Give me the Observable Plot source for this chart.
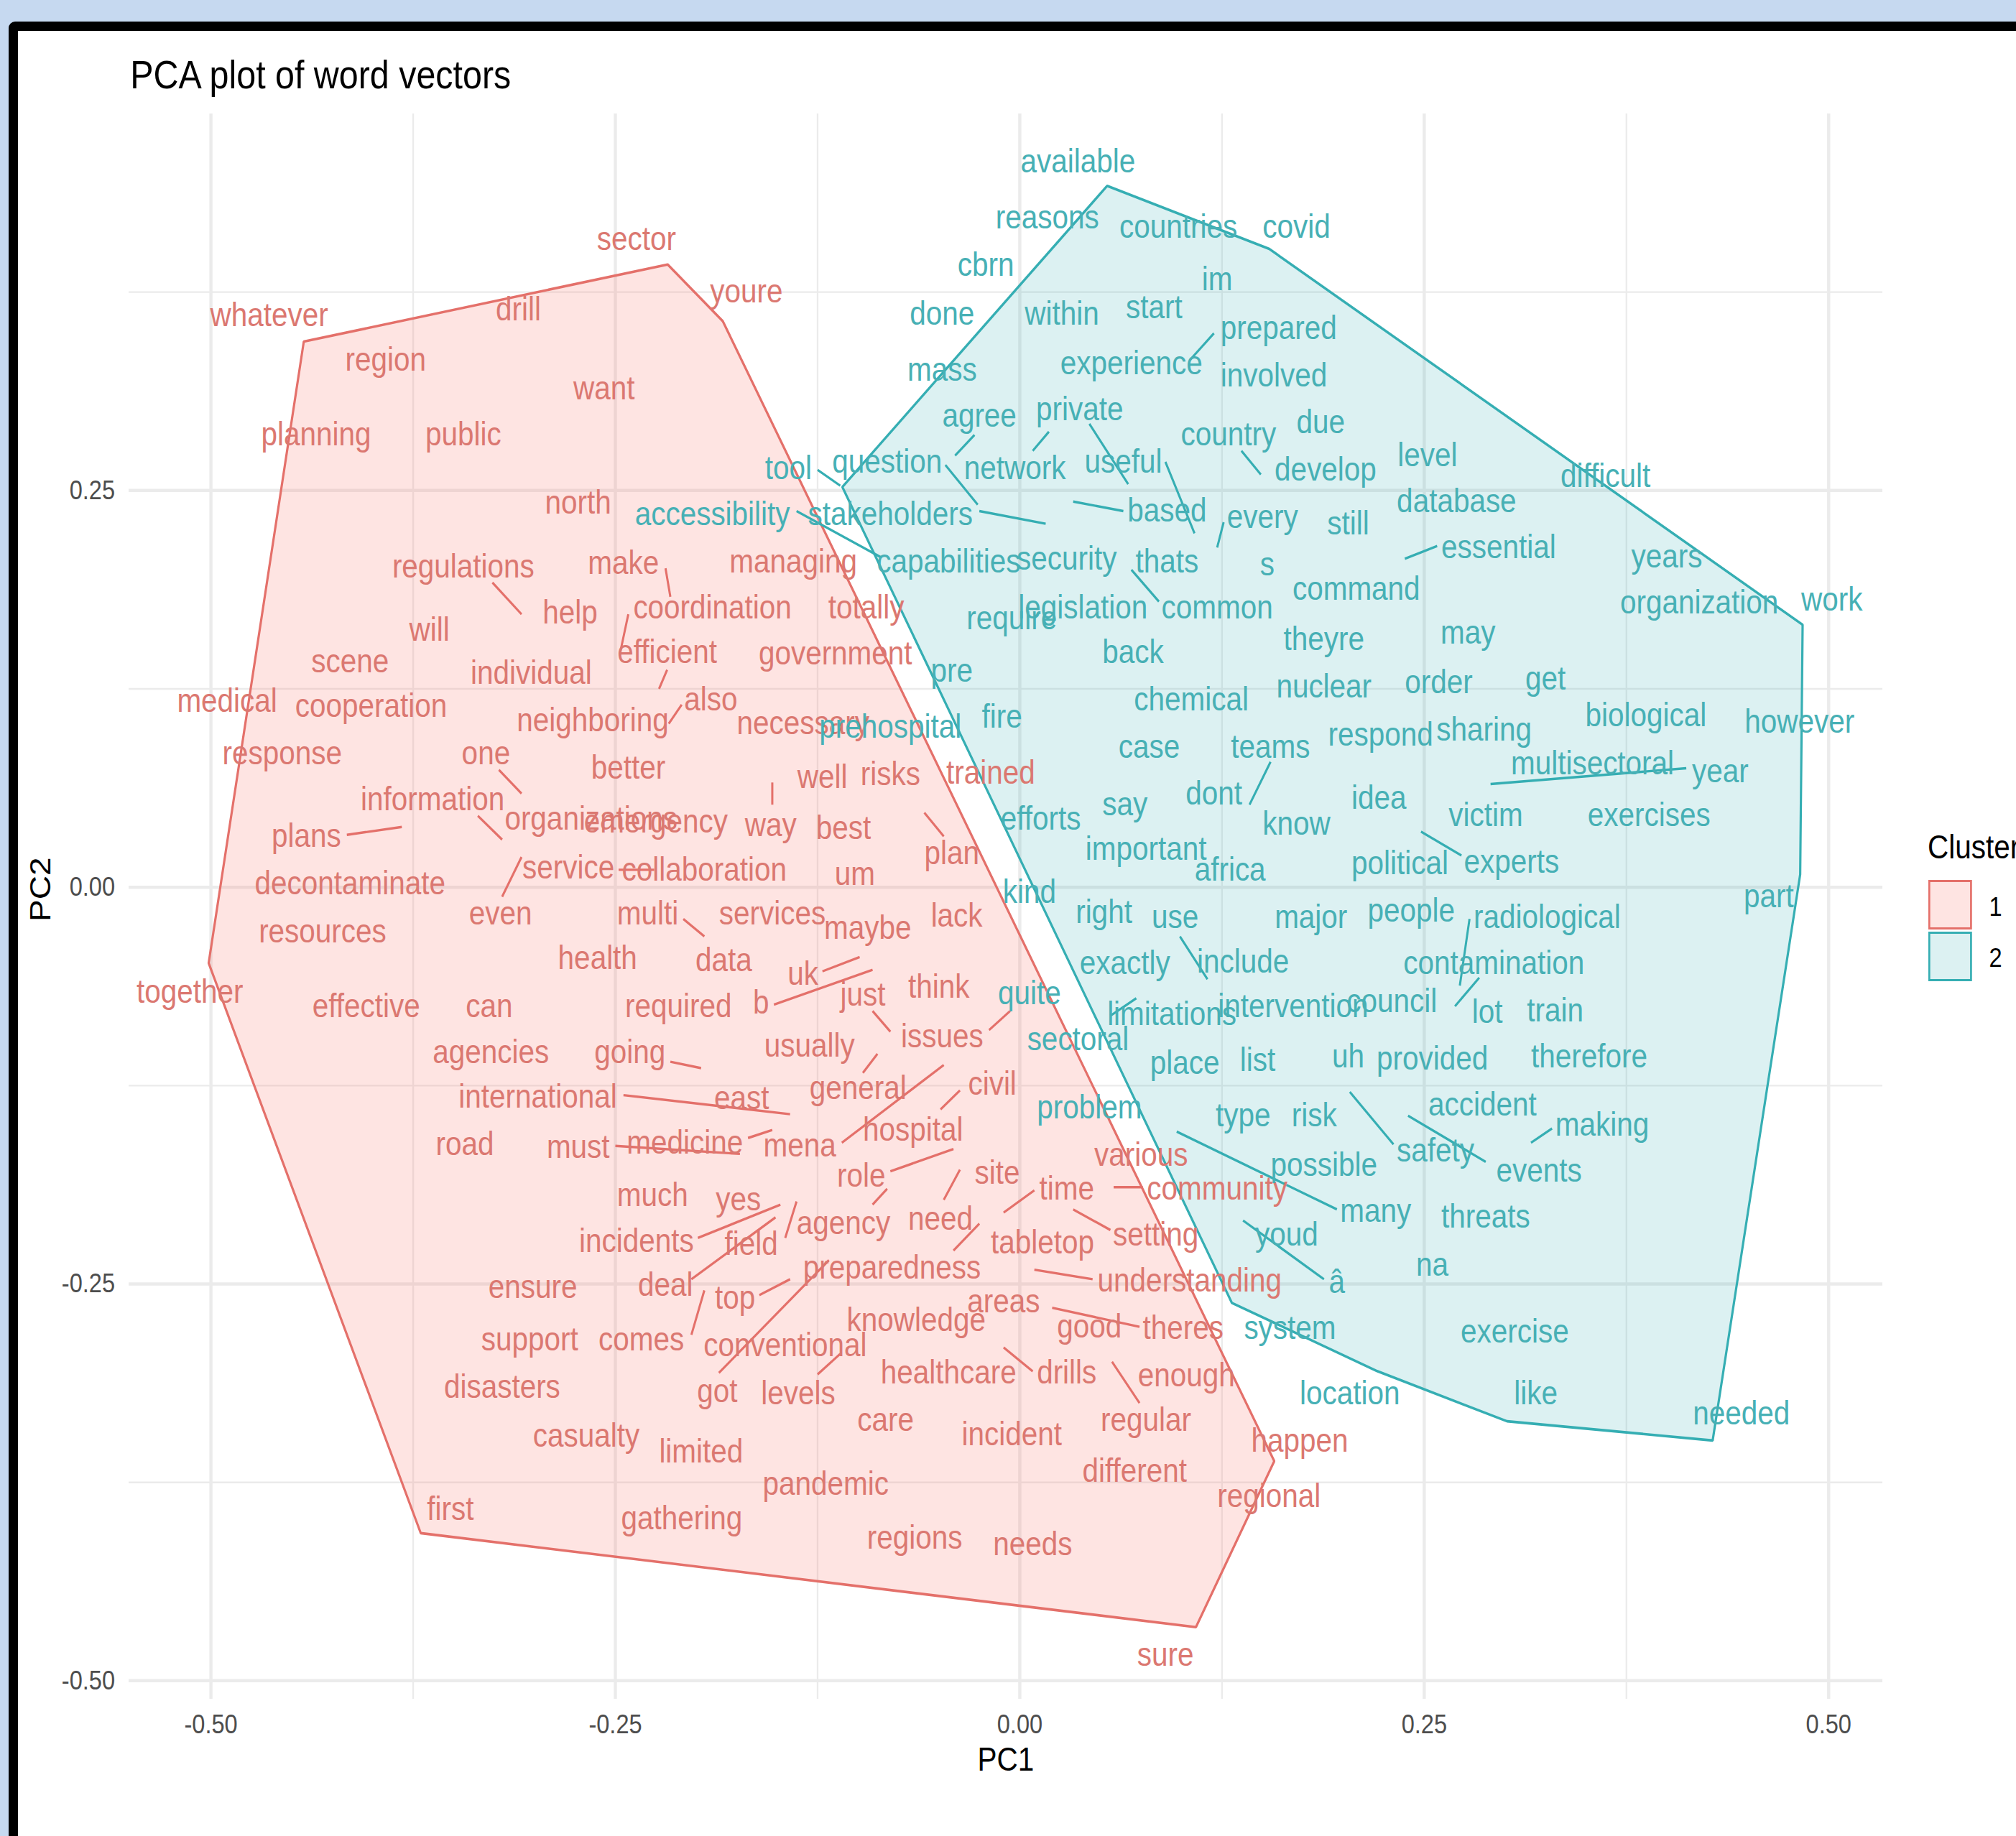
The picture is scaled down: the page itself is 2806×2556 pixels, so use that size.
<!DOCTYPE html>
<html>
<head>
<meta charset="utf-8">
<script src="https://cdn.jsdelivr.net/npm/d3@7"></script>
<script src="https://cdn.jsdelivr.net/npm/@observablehq/plot@0.6"></script>
<style>
  html, body { margin:0; padding:0; width:2806px; height:2556px; overflow:hidden; background:#C6D9F0; }
  #frame { position:absolute; left:12px; top:30px; width:3200px; height:3000px; box-sizing:border-box; border:13px solid #000; border-radius:9px; background:#fff; }
  #squeeze { position:absolute; left:0; top:0; width:3190px; height:2556px; transform:scaleX(0.88); transform-origin:0 0; font-family:"Liberation Sans", Arial, Helvetica, sans-serif; }
  #title { position:absolute; left:206px; top:77px; font-size:55px; line-height:55px; color:#000; white-space:nowrap; }
  #chart { position:absolute; left:0; top:0; }
  .leg { position:absolute; white-space:nowrap; color:#000; }
  .key { position:absolute; box-sizing:border-box; }
</style>
</head>
<body>
<div id="frame"></div>
<div id="squeeze">
  <div id="title">PCA plot of word vectors</div>
  <div id="chart"></div>
  <div id="legend"></div>
</div>
<script>
// ---------- data ----------
const clusters = ["1", "2"];

const c1Words = [
  "sector","whatever","drill","youre","region","want","planning","public","north","regulations",
  "make","managing","help","coordination","totally","will","scene","individual","efficient","government",
  "medical","cooperation","also","neighboring","necessary","response","one","better","well","risks",
  "trained","information","organizations","emergency","way","best","plans","plan","service","collaboration",
  "um","decontaminate","even","multi","services","maybe","lack","resources","health","data",
  "uk","just","think","together","effective","can","required","b","issues","usually",
  "agencies","going","civil","international","east","general","hospital","road","must","medicine",
  "mena","various","role","site","much","yes","time","community","agency","need",
  "incidents","field","tabletop","setting","preparedness","ensure","deal","top","understanding","areas",
  "knowledge","good","theres","support","comes","conventional","healthcare","drills","enough","disasters",
  "got","levels","care","incident","regular","happen","casualty","limited","different","pandemic",
  "regional","first","gathering","regions","needs","sure"
];
const c1PC1 = [
  -0.237,-0.464,-0.310,-0.169,-0.392,-0.257,-0.435,-0.344,-0.273,-0.344,
  -0.245,-0.140,-0.278,-0.190,-0.095,-0.365,-0.414,-0.302,-0.218,-0.114,
  -0.490,-0.401,-0.191,-0.264,-0.134,-0.456,-0.330,-0.242,-0.122,-0.080,
  -0.018,-0.363,-0.265,-0.225,-0.154,-0.109,-0.441,-0.042,-0.279,-0.195,
  -0.102,-0.414,-0.321,-0.230,-0.153,-0.094,-0.039,-0.431,-0.261,-0.183,
  -0.134,-0.097,-0.050,-0.513,-0.404,-0.328,-0.211,-0.160,-0.048,-0.130,
  -0.327,-0.241,-0.017,-0.298,-0.172,-0.100,-0.066,-0.343,-0.273,-0.207,
  -0.136,0.075,-0.098,-0.014,-0.227,-0.174,0.029,0.122,-0.109,-0.049,
  -0.237,-0.166,0.014,0.084,-0.079,-0.301,-0.219,-0.176,0.105,-0.010,
  -0.064,0.043,0.101,-0.303,-0.234,-0.145,-0.044,0.029,0.103,-0.320,
  -0.187,-0.137,-0.083,-0.005,0.078,0.173,-0.268,-0.197,0.071,-0.120,
  0.154,-0.352,-0.209,-0.065,0.008,0.090
];
const c1PC2 = [
  0.408,0.360,0.364,0.375,0.332,0.314,0.285,0.285,0.242,0.202,
  0.204,0.205,0.173,0.176,0.176,0.162,0.142,0.135,0.148,0.147,
  0.117,0.114,0.118,0.105,0.103,0.084,0.084,0.075,0.069,0.071,
  0.072,0.055,0.043,0.041,0.039,0.037,0.032,0.021,0.012,0.011,
  0.008,0.002,-0.017,-0.017,-0.017,-0.026,-0.018,-0.028,-0.045,-0.046,
  -0.055,-0.068,-0.063,-0.066,-0.075,-0.075,-0.075,-0.073,-0.094,-0.100,
  -0.104,-0.104,-0.124,-0.132,-0.133,-0.127,-0.153,-0.162,-0.164,-0.161,
  -0.163,-0.169,-0.182,-0.180,-0.194,-0.197,-0.190,-0.190,-0.212,-0.209,
  -0.223,-0.225,-0.224,-0.219,-0.240,-0.252,-0.251,-0.259,-0.248,-0.261,
  -0.273,-0.277,-0.278,-0.285,-0.285,-0.289,-0.306,-0.306,-0.308,-0.315,
  -0.318,-0.319,-0.336,-0.345,-0.336,-0.349,-0.346,-0.356,-0.368,-0.376,
  -0.384,-0.392,-0.398,-0.410,-0.414,-0.484
];

const c2Words = [
  "available","reasons","countries","covid","cbrn","im","done","within","start","prepared",
  "mass","experience","involved","agree","private","due","country","tool","question","network",
  "useful","develop","level","difficult","accessibility","stakeholders","based","every","still","database",
  "capabilities","security","thats","s","essential","years","require","legislation","common","command",
  "organization","work","theyre","may","back","pre","nuclear","order","get","chemical",
  "fire","prehospital","biological","however","case","teams","respond","sharing","multisectoral","year",
  "say","dont","idea","know","victim","exercises","efforts","important","africa","political",
  "experts","kind","part","right","use","major","people","radiological","exactly","include",
  "contamination","limitations","intervention","council","lot","train","quite","sectoral","place","list",
  "uh","provided","therefore","problem","type","risk","accident","making","possible","safety",
  "events","many","threats","youd","â","na","system","exercise","location","like",
  "needed"
];
const c2PC1 = [
  0.036,0.017,0.098,0.171,-0.021,0.122,-0.048,0.026,0.083,0.160,
  -0.048,0.069,0.157,-0.025,0.037,0.186,0.129,-0.143,-0.082,-0.003,
  0.064,0.189,0.252,0.362,-0.190,-0.080,0.091,0.150,0.203,0.270,
  -0.044,0.029,0.091,0.153,0.296,0.400,-0.005,0.039,0.122,0.208,
  0.420,0.502,0.188,0.277,0.070,-0.042,0.188,0.259,0.325,0.106,
  -0.011,-0.080,0.387,0.482,0.080,0.155,0.223,0.287,0.354,0.433,
  0.065,0.120,0.222,0.171,0.288,0.389,0.013,0.078,0.130,0.235,
  0.304,0.006,0.463,0.052,0.096,0.180,0.242,0.326,0.065,0.138,
  0.293,0.094,0.169,0.230,0.289,0.331,0.006,0.036,0.102,0.147,
  0.203,0.255,0.352,0.043,0.138,0.182,0.286,0.360,0.188,0.257,
  0.321,0.220,0.288,0.165,0.196,0.255,0.167,0.306,0.204,0.319,
  0.446
];
const c2PC2 = [
  0.457,0.422,0.416,0.416,0.392,0.383,0.361,0.361,0.365,0.352,
  0.326,0.330,0.322,0.297,0.301,0.293,0.285,0.264,0.268,0.264,
  0.268,0.263,0.272,0.259,0.235,0.235,0.237,0.233,0.229,0.243,
  0.205,0.207,0.205,0.203,0.214,0.208,0.169,0.176,0.176,0.188,
  0.179,0.181,0.156,0.160,0.148,0.136,0.126,0.129,0.131,0.118,
  0.107,0.101,0.108,0.104,0.088,0.088,0.096,0.099,0.078,0.073,
  0.052,0.059,0.056,0.040,0.045,0.045,0.043,0.024,0.011,0.015,
  0.016,-0.003,-0.006,-0.016,-0.019,-0.019,-0.015,-0.019,-0.048,-0.047,
  -0.048,-0.080,-0.075,-0.072,-0.079,-0.078,-0.067,-0.096,-0.111,-0.109,
  -0.107,-0.108,-0.107,-0.139,-0.144,-0.144,-0.137,-0.150,-0.175,-0.166,
  -0.179,-0.204,-0.208,-0.219,-0.249,-0.238,-0.278,-0.280,-0.319,-0.319,
  -0.332
];

// label connector segments: [pc1 start, pc2 start, pc1 end, pc2 end]
const c1Segments = [
  [-0.326,0.192,-0.308,0.172],[-0.219,0.201,-0.216,0.183],[-0.242,0.172,-0.247,0.148],
  [-0.218,0.137,-0.223,0.125],[-0.209,0.115,-0.217,0.103],[-0.322,0.074,-0.308,0.059],
  [-0.335,0.045,-0.320,0.030],[-0.416,0.033,-0.382,0.038],[-0.308,0.019,-0.320,-0.006],
  [-0.248,0.011,-0.226,0.011],[-0.208,-0.020,-0.195,-0.031],[-0.216,-0.110,-0.197,-0.114],
  [-0.245,-0.131,-0.142,-0.143],[-0.250,-0.163,-0.173,-0.168],[-0.168,-0.158,-0.153,-0.153],
  [-0.110,-0.161,-0.047,-0.112],[-0.097,-0.117,-0.088,-0.105],[-0.091,-0.078,-0.080,-0.091],
  [-0.019,-0.090,-0.006,-0.078],[-0.122,-0.053,-0.099,-0.044],[-0.152,-0.074,-0.091,-0.052],
  [-0.049,-0.140,-0.037,-0.128],[-0.080,-0.179,-0.041,-0.165],[-0.091,-0.200,-0.082,-0.190],
  [-0.047,-0.197,-0.037,-0.178],[-0.010,-0.205,0.009,-0.191],[-0.041,-0.229,-0.025,-0.212],
  [0.058,-0.189,0.076,-0.189],[0.033,-0.203,0.056,-0.216],[0.009,-0.241,0.045,-0.247],
  [0.020,-0.265,0.074,-0.277],[-0.010,-0.290,0.008,-0.305],[0.057,-0.299,0.074,-0.325],
  [-0.125,-0.307,-0.111,-0.294],[-0.186,-0.306,-0.118,-0.235],[-0.161,-0.257,-0.142,-0.247],
  [-0.199,-0.221,-0.148,-0.200],[-0.203,-0.247,-0.151,-0.208],[-0.145,-0.221,-0.138,-0.198],
  [-0.203,-0.282,-0.195,-0.254],[-0.153,0.066,-0.153,0.052],[-0.059,0.047,-0.047,0.032]
];
const c2Segments = [
  [0.105,0.332,0.120,0.349],[-0.040,0.272,-0.028,0.285],[0.008,0.275,0.018,0.287],
  [0.043,0.292,0.067,0.254],[0.033,0.243,0.064,0.237],[-0.125,0.263,-0.111,0.253],
  [-0.046,0.266,-0.026,0.241],[-0.025,0.237,0.016,0.229],[-0.138,0.237,-0.086,0.208],
  [0.090,0.268,0.108,0.223],[0.126,0.230,0.122,0.214],[0.069,0.200,0.086,0.180],
  [0.137,0.275,0.149,0.260],[0.238,0.207,0.258,0.215],[0.291,0.065,0.412,0.075],
  [0.248,0.035,0.273,0.020],[0.278,-0.020,0.272,-0.062],[0.284,-0.057,0.269,-0.075],
  [0.155,0.079,0.142,0.052],[0.099,-0.031,0.116,-0.058],[0.072,-0.070,0.056,-0.081],
  [0.204,-0.129,0.231,-0.162],[0.240,-0.144,0.288,-0.173],[0.316,-0.161,0.329,-0.152],
  [0.097,-0.154,0.196,-0.203],[0.138,-0.210,0.188,-0.247]
];

// points on each cluster's convex hull
const hull1PC1 = [-0.4426,-0.2177,-0.1836,0.1573,0.1089,-0.3703,-0.5014];
const hull1PC2 = [0.3438,0.3924,0.3567,-0.3616,-0.4662,-0.4070,-0.0478];
const hull2PC1 = [0.0540,0.1542,0.4839,0.4824,0.4283,0.3012,0.2209,0.1311,-0.1097];
const hull2PC2 = [0.4419,0.4022,0.1654,0.0081,-0.3486,-0.3365,-0.3049,-0.2619,0.2522];

const xTicks = [-0.5, -0.25, 0, 0.25, 0.5];
const yTicks = [-0.5, -0.25, 0, 0.25];
const xMinor = [-0.375, -0.125, 0.125, 0.375];
const yMinor = [-0.375, -0.125, 0.125, 0.375];

// ---------- build tables ----------
const words1 = c1Words.map((w, i) => ({word: w, pc1: c1PC1[i], pc2: c1PC2[i]}));
const words2 = c2Words.map((w, i) => ({word: w, pc1: c2PC1[i], pc2: c2PC2[i]}));
const hull1 = hull1PC1.map((v, i) => ({pc1: v, pc2: hull1PC2[i]}));
const hull2 = hull2PC1.map((v, i) => ({pc1: v, pc2: hull2PC2[i]}));

const RED_TEXT = "#DB7871", RED_LINE = "#E4706A", RED_FILL = "#F8766D";
const CYAN_TEXT = "#47B0B5", CYAN_LINE = "#35AEB3", CYAN_FILL = "#3DB4B9";
const FONT = "'Liberation Sans', Arial, Helvetica, sans-serif";
const GRID = "#EBEBEB";

const segOpts = (stroke) => ({x1: d => d[0], y1: d => d[1], x2: d => d[2], y2: d => d[3], stroke, strokeWidth: 3.4});
const txtOpts = (fill) => ({x: "pc1", y: "pc2", text: "word", fill, fontSize: 46, fontFamily: FONT});

const chart = Plot.plot({
  width: 3000,
  height: 2556,
  marginLeft: 203.4,
  marginRight: 22.7,
  marginTop: 158,
  marginBottom: 191,
  style: "background:transparent;max-width:none;overflow:visible;font-family:'Liberation Sans',Arial,sans-serif;font-size:37px;color:#4D4D4D;",
  x: {domain: [-0.5507, 0.5334], ticks: xTicks, tickFormat: d => d.toFixed(2), tickSize: 0, tickPadding: 21, label: null},
  y: {domain: [-0.5116, 0.4873], ticks: yTicks, tickFormat: d => d.toFixed(2), tickSize: 0, tickPadding: 22, label: null},
  marks: [
    Plot.ruleX(xMinor, {stroke: GRID, strokeWidth: 2.6}),
    Plot.ruleY(yMinor, {stroke: GRID, strokeWidth: 2.4}),
    Plot.ruleX(xTicks, {stroke: GRID, strokeWidth: 5}),
    Plot.ruleY(yTicks, {stroke: GRID, strokeWidth: 4.5}),
    Plot.hull(hull1, {x: "pc1", y: "pc2", fill: RED_FILL, fillOpacity: 0.2, stroke: RED_LINE, strokeWidth: 3.6}),
    Plot.hull(hull2, {x: "pc1", y: "pc2", fill: CYAN_FILL, fillOpacity: 0.18, stroke: CYAN_LINE, strokeWidth: 3.6}),
    Plot.link(c1Segments, segOpts(RED_LINE)),
    Plot.link(c2Segments, segOpts(CYAN_LINE)),
    Plot.text(words1, txtOpts(RED_TEXT)),
    Plot.text(words2, txtOpts(CYAN_TEXT)),
    Plot.text(["PC1"], {frameAnchor: "bottom", dy: 99, text: d => d, fontSize: 46, fill: "#000", fontFamily: FONT}),
    Plot.text(["PC2"], {frameAnchor: "left", dx: -138.6, dy: 21, rotate: -90, text: d => d, fontSize: 46, fill: "#000", fontFamily: FONT})
  ]
});
document.getElementById("chart").appendChild(chart);

// ---------- legend ----------
const legend = document.getElementById("legend");
const legTitle = document.createElement("div");
legTitle.className = "leg";
legTitle.style.cssText = "left:3049px;top:1156px;font-size:46px;line-height:46px;";
legTitle.textContent = "Cluster";
legend.appendChild(legTitle);
const keyFill = ["rgba(248,118,109,0.2)", "rgba(61,180,185,0.18)"];
const keyLine = [RED_LINE, CYAN_LINE];
clusters.forEach((c, i) => {
  const key = document.createElement("div");
  key.className = "key";
  key.style.cssText = `left:3050px;top:${1225 + i * 72}px;width:69px;height:69px;background:${keyFill[i]};border:3px solid ${keyLine[i]};`;
  legend.appendChild(key);
  const lab = document.createElement("div");
  lab.className = "leg";
  lab.style.cssText = `left:3146px;top:${1244 + i * 71}px;font-size:37px;line-height:37px;`;
  lab.textContent = c;
  legend.appendChild(lab);
});
</script>
</body>
</html>
